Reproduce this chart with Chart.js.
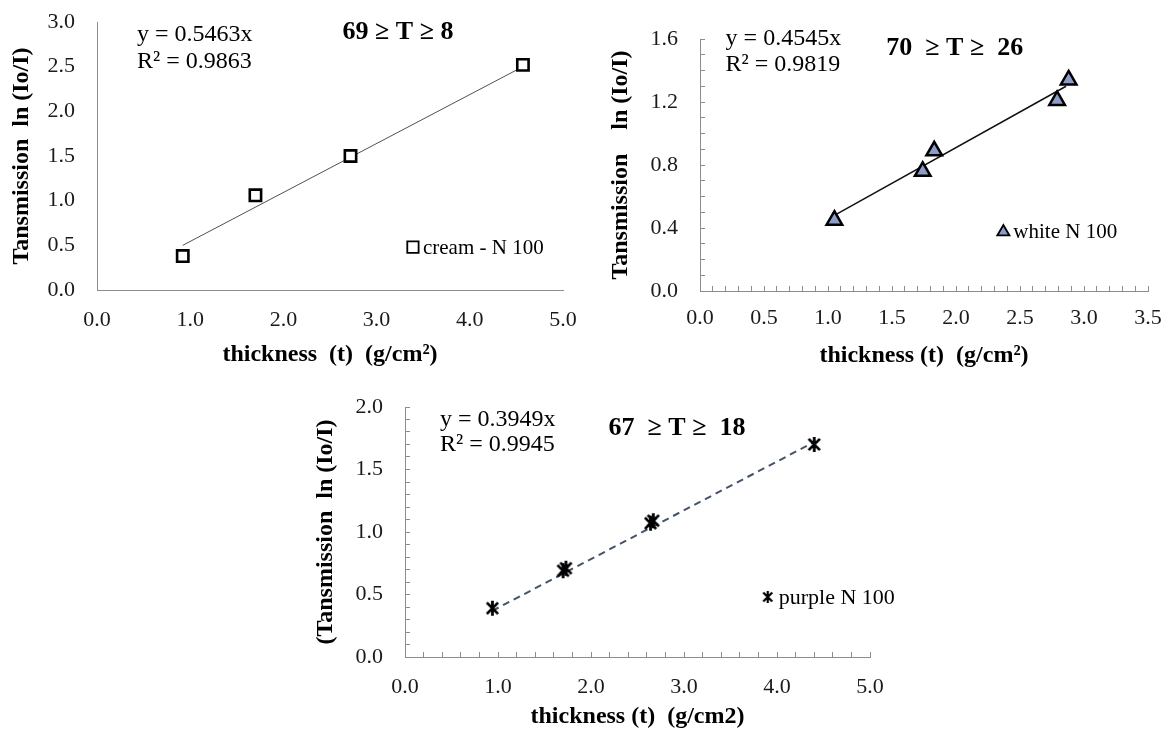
<!DOCTYPE html>
<html><head><meta charset="utf-8">
<script src="https://cdn.jsdelivr.net/npm/chart.js@4.4.1/dist/chart.umd.min.js"></script>
<style>
html,body{margin:0;padding:0;background:#fff;}
#wrap{position:relative;width:1169px;height:733px;overflow:hidden;background:#fff;}
canvas{position:absolute;}
</style></head><body>
<div id="wrap">
<canvas id="c1" width="600" height="370" style="left:0px;top:0px;width:600px;height:370px"></canvas>
<canvas id="c2" width="589" height="370" style="left:580px;top:0px;width:589px;height:370px"></canvas>
<canvas id="c3" width="600" height="353" style="left:300px;top:380px;width:600px;height:353px"></canvas>
</div>
<script>
// ---------- data ----------
const creamX = [0.92, 1.70, 2.72, 4.57];
const creamY = [0.38, 1.06, 1.50, 2.52];
const creamTrendX = [0.92, 4.57];
const creamTrendY = [0.50, 2.50];

const whiteX = [1.05, 1.74, 1.83, 2.79, 2.88];
const whiteY = [0.45, 0.76, 0.89, 1.21, 1.34];
const whiteTrendX = [1.05, 2.86];
const whiteTrendY = [0.48, 1.30];

const purpleX = [0.94, 1.70, 1.73, 2.64, 2.67, 4.40];
const purpleY = [0.39, 0.69, 0.71, 1.07, 1.09, 1.70];
const purpleTrendX = [0.94, 4.40];
const purpleTrendY = [0.37, 1.72];

const creamXTicks = [0, 1, 2, 3, 4, 5];
const creamXLabels = ['0.0', '1.0', '2.0', '3.0', '4.0', '5.0'];
const creamYTicks = [0, 0.5, 1, 1.5, 2, 2.5, 3];
const creamYLabels = ['0.0', '0.5', '1.0', '1.5', '2.0', '2.5', '3.0'];

const whiteXTicks = [0, 0.5, 1, 1.5, 2, 2.5, 3, 3.5];
const whiteXLabels = ['0.0', '0.5', '1.0', '1.5', '2.0', '2.5', '3.0', '3.5'];
const whiteYTicks = [0, 0.4, 0.8, 1.2, 1.6];
const whiteYLabels = ['0.0', '0.4', '0.8', '1.2', '1.6'];

const purpleXTicks = [0, 1, 2, 3, 4, 5];
const purpleXLabels = ['0.0', '1.0', '2.0', '3.0', '4.0', '5.0'];
const purpleYTicks = [0, 0.5, 1, 1.5, 2];
const purpleYLabels = ['0.0', '0.5', '1.0', '1.5', '2.0'];

// ---------- helpers ----------
const FONT = '"Liberation Serif", "Times New Roman", serif';
Chart.defaults.font.family = FONT;
const AXIS = '#8c8c8c';

function pts(xs, ys) { return xs.map((x, i) => ({x: x, y: ys[i]})); }
function labelFor(v, majors, labels) {
  const i = majors.findIndex(m => Math.abs(m - v) < 1e-6);
  return i >= 0 ? labels[i] : '';
}
function axis(o) {
  return {
    type: 'linear', min: o.min, max: o.max,
    afterFit: s => {
      if (s.isHorizontal()) s.height = o.size; else s.width = o.size;
      s.paddingTop = 0; s.paddingBottom = 0; s.paddingLeft = 0; s.paddingRight = 0;
    },
    border: {display: true, color: AXIS, width: 1},
    grid: {display: true, drawOnChartArea: false, drawTicks: o.minor, tickLength: -5, color: AXIS, lineWidth: 1},
    ticks: {stepSize: o.step, autoSkip: false, maxRotation: 0, minRotation: 0, padding: o.pad,
      color: '#1a1a1a', font: {size: 22, family: FONT},
      callback: v => labelFor(v, o.majors, o.labels)},
    title: {display: true, text: o.title, color: '#000', font: {size: 24, weight: 'bold', family: FONT},
      padding: o.titlePad}
  };
}
function asterisk(size, lw) {
  const c = document.createElement('canvas');
  c.width = size; c.height = size;
  const g = c.getContext('2d');
  g.strokeStyle = '#000'; g.lineWidth = lw; g.lineCap = 'butt';
  const m = size / 2, r = size / 2 - 1;
  g.beginPath();
  g.moveTo(m - r * 0.75, m - r * 0.75); g.lineTo(m + r * 0.75, m + r * 0.75);
  g.moveTo(m + r * 0.75, m - r * 0.75); g.lineTo(m - r * 0.75, m + r * 0.75);
  g.moveTo(m, m - r); g.lineTo(m, m + r);
  g.stroke();
  return c;
}

const annotPlugin = {
  id: 'annot',
  afterDatasetsDraw(chart, args, o) {
    const ctx = chart.ctx, xs = chart.scales.x, ys = chart.scales.y;
    ctx.save();
    ctx.textBaseline = 'middle';
    (o.texts || []).forEach(t => {
      ctx.font = (t.bold ? 'bold ' : '') + t.size + 'px ' + FONT;
      ctx.fillStyle = '#000';
      ctx.textAlign = t.align || 'left';
      ctx.fillText(t.text, xs.getPixelForValue(t.x), ys.getPixelForValue(t.y));
    });
    if (o.legend) {
      const L = o.legend, ds = chart.data.datasets[0];
      const px = xs.getPixelForValue(L.x), py = ys.getPixelForValue(L.y);
      ctx.fillStyle = ds.backgroundColor; ctx.strokeStyle = ds.borderColor; ctx.lineWidth = L.borderWidth;
      Chart.helpers.drawPoint(ctx, {pointStyle: L.pointStyle || ds.pointStyle, radius: L.radius,
        borderWidth: L.borderWidth, rotation: 0}, px, py);
      ctx.fillStyle = '#000'; ctx.textAlign = 'left';
      ctx.font = L.size + 'px ' + FONT;
      ctx.fillText(ds.label, px + L.gap, py + 1);
    }
    ctx.restore();
  }
};

function makeChart(id, cfg) {
  return new Chart(document.getElementById(id), {
    type: 'scatter',
    data: {datasets: [
      Object.assign({label: cfg.label, data: pts(cfg.x, cfg.y), showLine: false}, cfg.marker),
      Object.assign({type: 'line', label: 'trend', data: pts(cfg.tx, cfg.ty), pointRadius: 0,
        showLine: true, fill: false, tension: 0}, cfg.trend)
    ]},
    options: {
      responsive: false, maintainAspectRatio: false, animation: false, devicePixelRatio: 1,
      layout: {padding: cfg.padding},
      plugins: {legend: {display: false}, tooltip: {enabled: false}, annot: cfg.annot},
      scales: {x: axis(cfg.xa), y: axis(cfg.ya)}
    },
    plugins: [annotPlugin]
  });
}

// ---------- chart 1: cream ----------
makeChart('c1', {
  label: 'cream - N 100', x: creamX, y: creamY, tx: creamTrendX, ty: creamTrendY,
  marker: {pointStyle: 'rect', pointRadius: 8, pointBorderWidth: 2.6, borderColor: '#000',
    backgroundColor: '#fff', pointBackgroundColor: '#fff', pointBorderColor: '#000'},
  trend: {borderColor: '#505050', borderWidth: 1},
  padding: {left: 0, top: 22, right: 37, bottom: 0},
  xa: {min: 0, max: 5, step: 1, majors: creamXTicks, labels: creamXLabels, size: 80, pad: 17, minor: false,
    title: 'thickness  (t)  (g/cm²)', titlePad: {top: 0, bottom: 1}},
  ya: {min: 0, max: 3, step: 0.5, majors: creamYTicks, labels: creamYLabels, size: 97, pad: 22, minor: false,
    title: 'Tansmission  ln (Io/I)', titlePad: {top: 7, bottom: 0}},
  annot: {
    texts: [
      {text: 'y = 0.5463x', x: 0.43, y: 2.855, size: 24},
      {text: 'R² = 0.9863', x: 0.43, y: 2.55, size: 24},
      {text: '69 ≥ T ≥ 8', x: 3.23, y: 2.89, size: 26, bold: true, align: 'center'}
    ],
    legend: {x: 3.39, y: 0.48, radius: 8, borderWidth: 1.8, gap: 10, size: 21}
  }
});

// ---------- chart 2: white ----------
makeChart('c2', {
  label: 'white N 100', x: whiteX, y: whiteY, tx: whiteTrendX, ty: whiteTrendY,
  marker: {pointStyle: 'triangle', pointRadius: 9, pointBorderWidth: 2.5, borderColor: '#000',
    backgroundColor: '#8d9dc9', pointBackgroundColor: '#8d9dc9', pointBorderColor: '#000'},
  trend: {borderColor: '#111', borderWidth: 1.5},
  padding: {left: 0, top: 39, right: 21, bottom: 0},
  xa: {min: 0, max: 3.5, step: 0.1, majors: whiteXTicks, labels: whiteXLabels, size: 79, pad: 19, minor: true,
    title: 'thickness (t)  (g/cm²)', titlePad: {top: 0, bottom: 0}},
  ya: {min: 0, max: 1.6, step: 0.1, majors: whiteYTicks, labels: whiteYLabels, size: 120, pad: 27, minor: true,
    title: 'Tansmission    ln (Io/I)', titlePad: {top: 26, bottom: 0}},
  annot: {
    texts: [
      {text: 'y = 0.4545x', x: 0.2, y: 1.6, size: 24},
      {text: 'R² = 0.9819', x: 0.2, y: 1.435, size: 24},
      {text: '70  ≥ T ≥  26', x: 1.99, y: 1.543, size: 26, bold: true, align: 'center'}
    ],
    legend: {x: 2.37, y: 0.375, radius: 7, borderWidth: 1.8, gap: 10, size: 21}
  }
});

// ---------- chart 3: purple ----------
const starBig = asterisk(17, 2.8);
const starSmall = asterisk(14, 2.2);
makeChart('c3', {
  label: 'purple N 100', x: purpleX, y: purpleY, tx: purpleTrendX, ty: purpleTrendY,
  marker: {pointStyle: starBig, pointRadius: 8, borderColor: '#000', backgroundColor: '#000'},
  trend: {borderColor: '#44546a', borderWidth: 2, borderDash: [7, 5]},
  padding: {left: 0, top: 27, right: 30, bottom: 0},
  xa: {min: 0, max: 5, step: 0.2, majors: purpleXTicks, labels: purpleXLabels, size: 76, pad: 22, minor: true,
    title: 'thickness (t)  (g/cm2)', titlePad: {top: 0, bottom: 2}},
  ya: {min: 0, max: 2, step: 0.1, majors: purpleYTicks, labels: purpleYLabels, size: 105, pad: 27, minor: true,
    title: '(Tansmission  ln (Io/I)', titlePad: {top: 11, bottom: 0}},
  annot: {
    texts: [
      {text: 'y = 0.3949x', x: 0.376, y: 1.896, size: 24},
      {text: 'R² = 0.9945', x: 0.376, y: 1.696, size: 24},
      {text: '67  ≥ T ≥  18', x: 2.925, y: 1.832, size: 26, bold: true, align: 'center'}
    ],
    legend: {x: 3.9, y: 0.48, radius: 7, borderWidth: 2, gap: 11, size: 22, pointStyle: starSmall}
  }
});
</script>
</body></html>
